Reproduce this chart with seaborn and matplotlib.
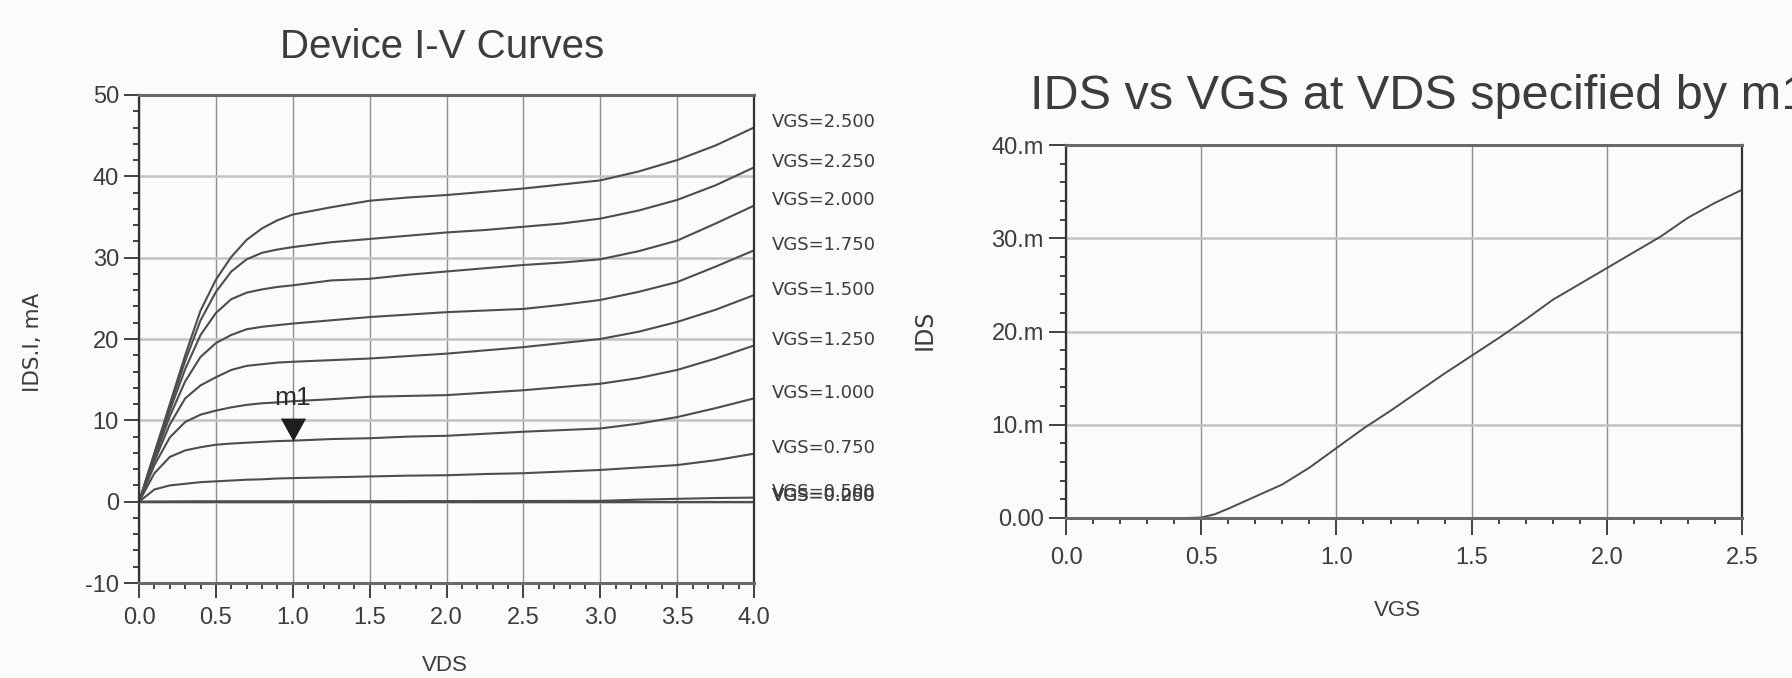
import matplotlib
matplotlib.use("Agg")
import matplotlib.pyplot as plt
import numpy as np
import pandas as pd
import seaborn as sns
from matplotlib.ticker import MultipleLocator

# ---------------- data: drain current (mA) vs drain voltage for each gate bias ----------------
vds = [0.0, 0.1, 0.2, 0.3, 0.4, 0.5, 0.6, 0.7, 0.8, 0.9, 1.0, 1.25, 1.5, 1.75,
       2.0, 2.25, 2.5, 2.75, 3.0, 3.25, 3.5, 3.75, 4.0]

vgs_levels = [2.5, 2.25, 2.0, 1.75, 1.5, 1.25, 1.0, 0.75, 0.5, 0.25, 0.0]

ids_vgs_2500 = [0, 6.0, 12.0, 18.0, 23.5, 27.3, 30.1, 32.2, 33.6, 34.6, 35.3, 36.2, 37.0, 37.4,
                37.7, 38.1, 38.5, 39.0, 39.5, 40.6, 42.0, 43.8, 46.0]
ids_vgs_2250 = [0, 5.9, 11.7, 17.3, 22.3, 25.8, 28.3, 29.8, 30.6, 31.0, 31.3, 31.9, 32.3, 32.7,
                33.1, 33.4, 33.8, 34.2, 34.8, 35.8, 37.1, 38.9, 41.1]
ids_vgs_2000 = [0, 5.7, 11.2, 16.3, 20.5, 23.2, 24.9, 25.7, 26.1, 26.4, 26.6, 27.2, 27.4, 27.9,
                28.3, 28.7, 29.1, 29.4, 29.8, 30.8, 32.1, 34.2, 36.4]
ids_vgs_1750 = [0, 5.4, 10.5, 14.8, 17.8, 19.5, 20.5, 21.2, 21.5, 21.7, 21.9, 22.3, 22.7, 23.0,
                23.3, 23.5, 23.7, 24.2, 24.8, 25.8, 27.0, 28.9, 30.9]
ids_vgs_1500 = [0, 5.0, 9.5, 12.7, 14.3, 15.3, 16.2, 16.7, 16.9, 17.1, 17.2, 17.4, 17.6, 17.9,
                18.2, 18.6, 19.0, 19.5, 20.0, 20.9, 22.1, 23.6, 25.4]
ids_vgs_1250 = [0, 4.5, 7.9, 9.8, 10.7, 11.2, 11.6, 11.9, 12.1, 12.2, 12.35, 12.6, 12.9, 13.0,
                13.1, 13.4, 13.7, 14.1, 14.5, 15.2, 16.2, 17.6, 19.2]
ids_vgs_1000 = [0, 3.5, 5.5, 6.3, 6.7, 7.0, 7.15, 7.25, 7.35, 7.45, 7.5, 7.7, 7.8, 8.0,
                8.1, 8.35, 8.6, 8.8, 9.0, 9.6, 10.4, 11.5, 12.7]
ids_vgs_0750 = [0, 1.5, 2.0, 2.2, 2.4, 2.5, 2.6, 2.7, 2.75, 2.85, 2.9, 3.0, 3.1, 3.2,
                3.25, 3.4, 3.5, 3.7, 3.9, 4.2, 4.5, 5.1, 5.9]
ids_vgs_0500 = [0, 0.02, 0.03, 0.04, 0.05, 0.05, 0.05, 0.05, 0.05, 0.05, 0.05, 0.06, 0.06, 0.07,
                0.07, 0.08, 0.08, 0.09, 0.1, 0.25, 0.35, 0.45, 0.5]
ids_vgs_0250 = [0, 0, 0, 0, 0, 0, 0, 0, 0, 0, 0, 0, 0, 0,
                0, 0, 0, 0, 0, 0, 0, 0, 0]
ids_vgs_0000 = [0, 0, 0, 0, 0, 0, 0, 0, 0, 0, 0, 0, 0, 0,
                0, 0, 0, 0, 0, 0, 0, 0, 0]

ids_curves = [ids_vgs_2500, ids_vgs_2250, ids_vgs_2000, ids_vgs_1750, ids_vgs_1500,
              ids_vgs_1250, ids_vgs_1000, ids_vgs_0750, ids_vgs_0500, ids_vgs_0250, ids_vgs_0000]

# marker m1 sits on the VGS = 1.0 curve at VDS = 1.0
m1_vds = 1.0
m1_vgs = 1.0

# ---------------- data: transfer curve at the m1 drain voltage ----------------
vgs_sweep = [0.40, 0.45, 0.50, 0.55, 0.60, 0.70, 0.80, 0.90, 1.00, 1.10, 1.20, 1.30, 1.40,
             1.50, 1.60, 1.70, 1.80, 1.90, 2.00, 2.10, 2.20, 2.30, 2.40, 2.50]
ids_at_m1 = [0.0, 0.0, 0.05, 0.4, 1.0, 2.3, 3.6, 5.4, 7.5, 9.6, 11.5, 13.5, 15.5,
             17.4, 19.3, 21.3, 23.4, 25.1, 26.8, 28.5, 30.2, 32.2, 33.8, 35.2]

# axis ticks and labels
iv_xticks = [0.0, 0.5, 1.0, 1.5, 2.0, 2.5, 3.0, 3.5, 4.0]
iv_xticklabels = ["0.0", "0.5", "1.0", "1.5", "2.0", "2.5", "3.0", "3.5", "4.0"]
iv_yticks = [-10, 0, 10, 20, 30, 40, 50]
iv_yticklabels = ["-10", "0", "10", "20", "30", "40", "50"]
tr_xticks = [0.0, 0.5, 1.0, 1.5, 2.0, 2.5]
tr_xticklabels = ["0.0", "0.5", "1.0", "1.5", "2.0", "2.5"]
tr_yticks = [0, 10, 20, 30, 40]
tr_yticklabels = ["0.00", "10.m", "20.m", "30.m", "40.m"]

# ---------------- styling ----------------
BG = "#fbfbfb"
CURVE = "#4d4d4d"
TEXT = "#3c3c3c"
WIDE = ["DejaVu Sans"]

sns.set_style("ticks")
plt.rcParams["font.family"] = ["Liberation Sans", "DejaVu Sans"]
plt.rcParams["axes.unicode_minus"] = False

fig = plt.figure(figsize=(17.92, 6.78), dpi=100, facecolor=BG)
ax1 = fig.add_axes([0.0776, 0.1401, 0.3432, 0.7198], facecolor=BG)
ax2 = fig.add_axes([0.5949, 0.2360, 0.3772, 0.5501], facecolor=BG)


def style_axes(ax, major_len, xpad, ypad):
    ax.grid(True, which="major", axis="x", color="#8e8e8e", lw=1.0)
    ax.grid(True, which="major", axis="y", color="#c2c2c2", lw=1.8)
    ax.set_axisbelow(True)
    for side in ("left", "right"):
        ax.spines[side].set_visible(True)
        ax.spines[side].set_color("#333333")
        ax.spines[side].set_linewidth(1.6)
    for side in ("top", "bottom"):
        ax.spines[side].set_visible(True)
        ax.spines[side].set_color("#6a6a6a")
        ax.spines[side].set_linewidth(2.2)
    ax.tick_params(which="major", direction="out", length=major_len, width=1.3,
                   color="#333333", labelsize=17, labelcolor=TEXT)
    ax.tick_params(which="minor", direction="out", length=4.5, width=1.3, color="#333333")
    ax.tick_params(axis="x", which="major", pad=xpad)
    ax.tick_params(axis="y", which="major", pad=ypad)
    ax.tick_params(top=False, right=False, which="both")


# ---------------- left: family of I-V curves ----------------
frames = []
for vgs, ids in zip(vgs_levels, ids_curves):
    frames.append(pd.DataFrame({"VDS": vds, "IDS": ids, "VGS": f"VGS={vgs:.3f}"}))
iv = pd.concat(frames, ignore_index=True)

sns.lineplot(data=iv, x="VDS", y="IDS", hue="VGS",
             palette=[CURVE] * len(vgs_levels), legend=False,
             estimator=None, sort=False, lw=1.5, ax=ax1)

ax1.set_xlim(0, 4)
ax1.set_ylim(-10, 50)
ax1.set_xticks(iv_xticks)
ax1.set_xticklabels(iv_xticklabels)
ax1.set_yticks(iv_yticks)
ax1.set_yticklabels(iv_yticklabels)
ax1.xaxis.set_minor_locator(MultipleLocator(0.1))
ax1.yaxis.set_minor_locator(MultipleLocator(2))
style_axes(ax1, major_len=11, xpad=6.5, ypad=3.5)

ax1.set_xlabel("VDS", fontsize=16, color=TEXT)
ax1.xaxis.label.set_va("center")
ax1.xaxis.set_label_coords(0.4976, -0.168)
ax1.set_ylabel("IDS.I, mA", fontsize=15.5, color=TEXT, family=WIDE)
ax1.yaxis.label.set_va("center")
ax1.yaxis.set_label_coords(-0.172, 0.494)

# curve labels at the right end of each trace
for vgs, ids in zip(vgs_levels, ids_curves):
    ax1.annotate(f"VGS={vgs:.3f}", xy=(vds[-1], ids[-1]), xytext=(13, 4),
                 textcoords="offset points", ha="left", va="center",
                 fontsize=13, color=TEXT, family=WIDE, annotation_clip=False)

# marker m1
m1_ids = ids_curves[vgs_levels.index(m1_vgs)][vds.index(m1_vds)]
tip_down = [(0, 0), (-0.55, 1.0), (0.55, 1.0), (0, 0)]
ax1.plot([m1_vds], [m1_ids], marker=tip_down, markersize=33, color="#1e1e1e",
         markeredgewidth=0, linestyle="none", zorder=5)
ax1.annotate("m1", xy=(m1_vds, m1_ids), xytext=(0, 31), textcoords="offset points",
             ha="center", va="center", fontsize=19, color="#2a2a2a")

fig.text(0.2467, 0.9307, "Device I-V Curves", ha="center", va="center",
         fontsize=29, color=TEXT)

# ---------------- right: IDS vs VGS at m1 ----------------
sns.lineplot(x=vgs_sweep, y=ids_at_m1, color=CURVE, lw=1.4, ax=ax2)
ax2.lines[-1].set_clip_on(False)

ax2.set_xlim(0, 2.5)
ax2.set_ylim(0, 40)
ax2.set_xticks(tr_xticks)
ax2.set_xticklabels(tr_xticklabels)
ax2.set_yticks(tr_yticks)
ax2.set_yticklabels(tr_yticklabels)
ax2.xaxis.set_minor_locator(MultipleLocator(0.1))
ax2.yaxis.set_minor_locator(MultipleLocator(2))
style_axes(ax2, major_len=12, xpad=9, ypad=4)

ax2.set_xlabel("VGS", fontsize=16, color=TEXT)
ax2.xaxis.label.set_va("center")
ax2.xaxis.set_label_coords(0.49, -0.247)
ax2.set_ylabel("IDS", fontsize=17, color=TEXT, family=WIDE)
ax2.yaxis.label.set_va("center")
ax2.yaxis.set_label_coords(-0.209, 0.504)

fig.text(0.5748, 0.8584, "IDS vs VGS at VDS specified by m1", ha="left", va="center",
         fontsize=35, color=TEXT)

fig.savefig("out.png", dpi=100, facecolor=BG)
